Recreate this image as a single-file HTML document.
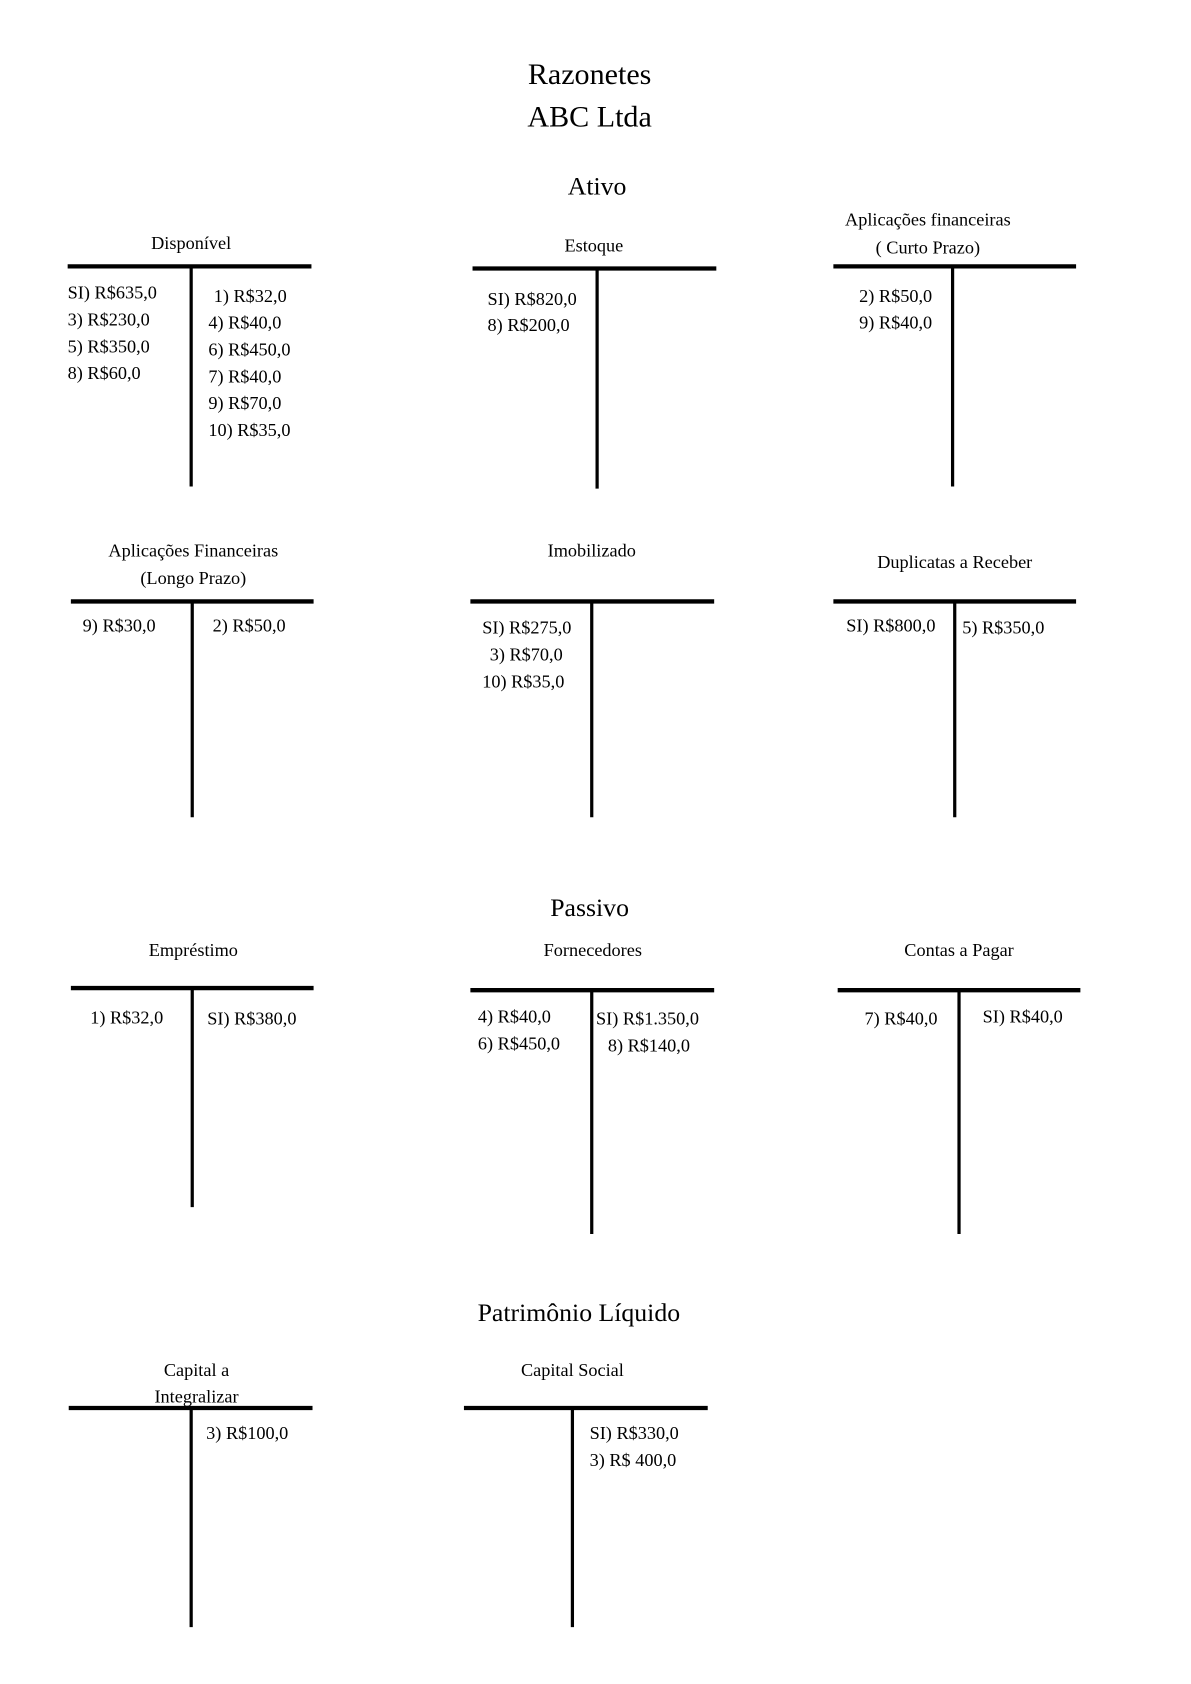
<!DOCTYPE html>
<html><head><meta charset="utf-8"><style>
html,body{margin:0;padding:0;background:#fff}
svg{display:block}
text{font-family:"Liberation Serif",serif;fill:#000}
.t{font-size:28px;text-anchor:middle}
.s{font-size:24px;text-anchor:middle}
.l{font-size:17px;text-anchor:middle}
.e{font-size:17px}
.h{stroke:#000;stroke-width:4}
.v{stroke:#000;stroke-width:3}
</style></head><body>
<svg width="1191" height="1684" viewBox="0 0 1109 1568" preserveAspectRatio="none">
<text class="t" x="549" y="78">Razonetes</text>
<text class="t" x="549" y="118">ABC Ltda</text>
<text class="s" x="556" y="181">Ativo</text>

<text class="l" x="178" y="232">Disponível</text>
<line class="h" x1="63" y1="248" x2="290" y2="248"/><line class="v" x1="178" y1="248" x2="178" y2="453"/>
<text class="e" x="63" y="278">SI) R$635,0</text><text class="e" x="63" y="303">3) R$230,0</text><text class="e" x="63" y="328">5) R$350,0</text><text class="e" x="63" y="353">8) R$60,0</text>
<text class="e" x="199" y="281">1) R$32,0</text><text class="e" x="194" y="306">4)  R$40,0</text><text class="e" x="194" y="331">6) R$450,0</text><text class="e" x="194" y="356">7)  R$40,0</text><text class="e" x="194" y="381">9)  R$70,0</text><text class="e" x="194" y="406">10) R$35,0</text>

<text class="l" x="553" y="234">Estoque</text>
<line class="h" x1="440" y1="250" x2="667" y2="250"/><line class="v" x1="556" y1="250" x2="556" y2="455"/>
<text class="e" x="454" y="284">SI) R$820,0</text><text class="e" x="454" y="308">8) R$200,0</text>

<text class="l" x="864" y="210">Aplicações financeiras</text><text class="l" x="864" y="236">( Curto Prazo)</text>
<line class="h" x1="776" y1="248" x2="1002" y2="248"/><line class="v" x1="887" y1="248" x2="887" y2="453"/>
<text class="e" x="800" y="281">2) R$50,0</text><text class="e" x="800" y="306">9) R$40,0</text>

<text class="l" x="180" y="518">Aplicações Financeiras</text><text class="l" x="180" y="544">(Longo Prazo)</text>
<line class="h" x1="66" y1="560" x2="292" y2="560"/><line class="v" x1="179" y1="560" x2="179" y2="761"/>
<text class="e" x="77" y="588">9) R$30,0</text><text class="e" x="198" y="588">2) R$50,0</text>

<text class="l" x="551" y="518">Imobilizado</text>
<line class="h" x1="438" y1="560" x2="665" y2="560"/><line class="v" x1="551" y1="560" x2="551" y2="761"/>
<text class="e" x="449" y="590">SI) R$275,0</text><text class="e" x="456" y="615">3) R$70,0</text><text class="e" x="449" y="640">10) R$35,0</text>

<text class="l" x="889" y="529">Duplicatas a Receber</text>
<line class="h" x1="776" y1="560" x2="1002" y2="560"/><line class="v" x1="889" y1="560" x2="889" y2="761"/>
<text class="e" x="788" y="588">SI) R$800,0</text><text class="e" x="896" y="590">5) R$350,0</text>

<text class="s" x="549" y="853">Passivo</text>

<text class="l" x="180" y="890">Empréstimo</text>
<line class="h" x1="66" y1="920" x2="292" y2="920"/><line class="v" x1="179" y1="920" x2="179" y2="1124"/>
<text class="e" x="84" y="953">1) R$32,0</text><text class="e" x="193" y="954">SI) R$380,0</text>

<text class="l" x="552" y="890">Fornecedores</text>
<line class="h" x1="438" y1="922" x2="665" y2="922"/><line class="v" x1="551" y1="922" x2="551" y2="1149"/>
<text class="e" x="445" y="952">4) R$40,0</text><text class="e" x="445" y="977">6) R$450,0</text>
<text class="e" x="555" y="954">SI) R$1.350,0</text><text class="e" x="566" y="979">8) R$140,0</text>

<text class="l" x="893" y="890">Contas a Pagar</text>
<line class="h" x1="780" y1="922" x2="1006" y2="922"/><line class="v" x1="893" y1="922" x2="893" y2="1149"/>
<text class="e" x="805" y="954">7) R$40,0</text><text class="e" x="915" y="952">SI) R$40,0</text>

<text class="s" x="539" y="1230">Patrimônio Líquido</text>

<text class="l" x="183" y="1281">Capital a</text><text class="l" x="183" y="1306">Integralizar</text>
<line class="h" x1="64" y1="1311" x2="291" y2="1311"/><line class="v" x1="178" y1="1311" x2="178" y2="1515"/>
<text class="e" x="192" y="1340">3) R$100,0</text>

<text class="l" x="533" y="1281">Capital Social</text>
<line class="h" x1="432" y1="1311" x2="659" y2="1311"/><line class="v" x1="533" y1="1311" x2="533" y2="1515"/>
<text class="e" x="549" y="1340">SI) R$330,0</text><text class="e" x="549" y="1365">3) R$ 400,0</text>
</svg>
</body></html>
